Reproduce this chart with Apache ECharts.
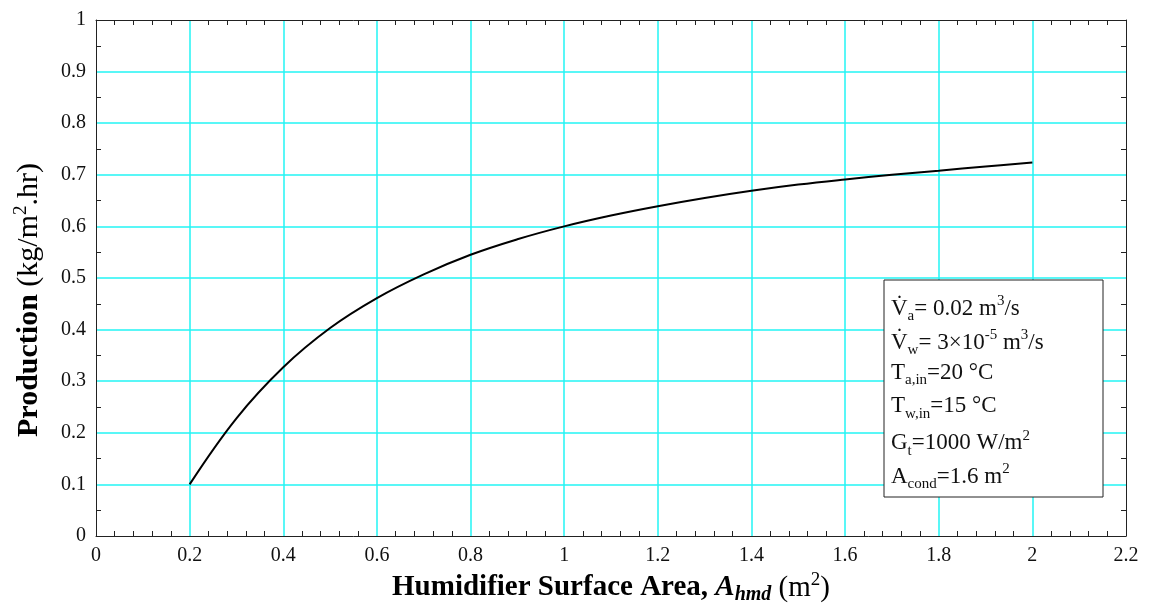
<!DOCTYPE html>
<html lang="en">
<head>
    <meta charset="UTF-8">
    <title>Production vs humidifier area</title>
    <style>
        html, body { margin: 0; padding: 0; background: #fff; }
        #chart { width: 1152px; height: 604px; }
    </style>
</head>
<body>
<div id="chart"></div>
<script src="https://cdn.jsdelivr.net/npm/echarts@6/dist/echarts.min.js"></script>
<script>
    // humidifier surface area (m2) and production (kg/m2.hr)
    var areas = [0.2, 0.3, 0.4, 0.5, 0.6, 0.7, 0.8, 0.9, 1.0, 1.1, 1.2, 1.3, 1.4, 1.5, 1.6, 1.7, 1.8, 1.9, 2.0];
    var production = [0.100, 0.228, 0.327, 0.403, 0.461, 0.507, 0.545, 0.575, 0.600, 0.621, 0.639, 0.655, 0.669, 0.681, 0.691, 0.700, 0.708, 0.716, 0.724];
    var xTicks = [0, 2.2, 0.2];
    var yTicks = [0, 1, 0.1];

    var FONT = '"Liberation Serif", "Times New Roman", serif';
    var CYAN = '#22f4f4';

    var points = [];
    for (var i = 0; i < areas.length; i++) {
        points.push([areas[i], production[i]]);
    }

    function fmt(v) {
        return String(Math.round(v * 10) / 10);
    }

    function makeAxis(pos, range, split, showLabel) {
        return {
            type: 'value', position: pos,
            min: range[0], max: range[1], interval: range[2],
            axisLine: { show: true, onZero: false, lineStyle: { color: '#222', width: 1 } },
            axisTick: { show: false, inside: true },
            minorTick: { show: true, splitNumber: split, length: 5, lineStyle: { color: '#222' } },
            axisLabel: { show: showLabel, formatter: fmt, color: '#111', fontFamily: FONT, fontSize: 20, margin: 10 },
            splitLine: { show: showLabel, showMinLine: false, showMaxLine: false, lineStyle: { color: CYAN, width: 1.5 } },
            z: 5
        };
    }

    var xBottom = makeAxis('bottom', xTicks, 5, true);
    xBottom.name = '{b|Humidifier Surface Area, }{bi|A}{bis|hmd}{n| (m}{sup|2}{n|)}';
    xBottom.nameLocation = 'middle';
    xBottom.nameGap = 31;
    xBottom.nameTextStyle = {
        fontFamily: FONT, color: '#000',
        rich: {
            b: { fontFamily: FONT, fontSize: 29, fontWeight: 'bold', color: '#000', lineHeight: 34 },
            bi: { fontFamily: FONT, fontSize: 29, fontWeight: 'bold', fontStyle: 'italic', color: '#000', lineHeight: 34 },
            bis: { fontFamily: FONT, fontSize: 20, fontWeight: 'bold', fontStyle: 'italic', color: '#000', verticalAlign: 'bottom', lineHeight: 20 },
            n: { fontFamily: FONT, fontSize: 29, color: '#000', lineHeight: 34 },
            sup: { fontFamily: FONT, fontSize: 19, color: '#000', verticalAlign: 'top', lineHeight: 19 }
        }
    };
    var xTop = makeAxis('top', xTicks, 5, false);
    var yLeft = makeAxis('left', yTicks, 2, true);
    yLeft.name = '{b|Production }{n|(kg/m}{sup|2}{n|.hr)}';
    yLeft.nameLocation = 'middle';
    yLeft.nameRotate = 90;
    yLeft.nameGap = 50;
    yLeft.nameTextStyle = {
        fontFamily: FONT, color: '#000', padding: [0, 44, 0, 0],
        rich: {
            b: { fontFamily: FONT, fontSize: 30, fontWeight: 'bold', color: '#000', lineHeight: 34 },
            n: { fontFamily: FONT, fontSize: 30, color: '#000', lineHeight: 34 },
            sup: { fontFamily: FONT, fontSize: 19, color: '#000', verticalAlign: 'top', lineHeight: 19 }
        }
    };
    var yRight = makeAxis('right', yTicks, 2, false);

    // note box text, one line each
    var noteRich = {
        m: { fontFamily: FONT, fontSize: 23, color: '#111', lineHeight: 30 },
        s: { fontFamily: FONT, fontSize: 15, color: '#111', verticalAlign: 'bottom', lineHeight: 15 },
        p: { fontFamily: FONT, fontSize: 15, color: '#111', verticalAlign: 'top', lineHeight: 15 }
    };
    var noteLines = [
        '{m|V\u0307}{s|a}{m|= 0.02 m}{p|3}{m|/s}',
        '{m|V\u0307}{s|w}{m|= 3\u00d710}{p|-5}{m| m}{p|3}{m|/s}',
        '{m|T}{s|a,in}{m|=20 \u00b0C}',
        '{m|T}{s|w,in}{m|=15 \u00b0C}',
        '{m|G}{s|t}{m|=1000 W/m}{p|2}',
        '{m|A}{s|cond}{m|=1.6 m}{p|2}'
    ];
    var graphics = [{
        type: 'rect', z: 100,
        shape: { x: 884, y: 280, width: 219, height: 217 },
        style: { fill: '#fff', stroke: '#222', lineWidth: 1 }
    }];
    for (var k = 0; k < noteLines.length; k++) {
        graphics.push({
            type: 'text', z: 101, left: 891, top: 294 + k * 33.6,
            style: { text: noteLines[k], rich: noteRich, font: '23px ' + FONT, fill: '#111' }
        });
    }

    var chart = echarts.init(document.getElementById('chart'), null, { renderer: 'canvas' });
    chart.setOption({
        animation: false,
        backgroundColor: '#fff',
        grid: { left: 96, right: 26, top: 20, bottom: 68, containLabel: false, outerBoundsMode: 'none' },
        xAxis: [xBottom, xTop],
        yAxis: [yLeft, yRight],
        series: [{
            type: 'line',
            data: points,
            smooth: 0.4,
            showSymbol: false,
            lineStyle: { color: '#000', width: 2 },
            z: 10
        }],
        graphic: graphics
    });
</script>
</body>
</html>
